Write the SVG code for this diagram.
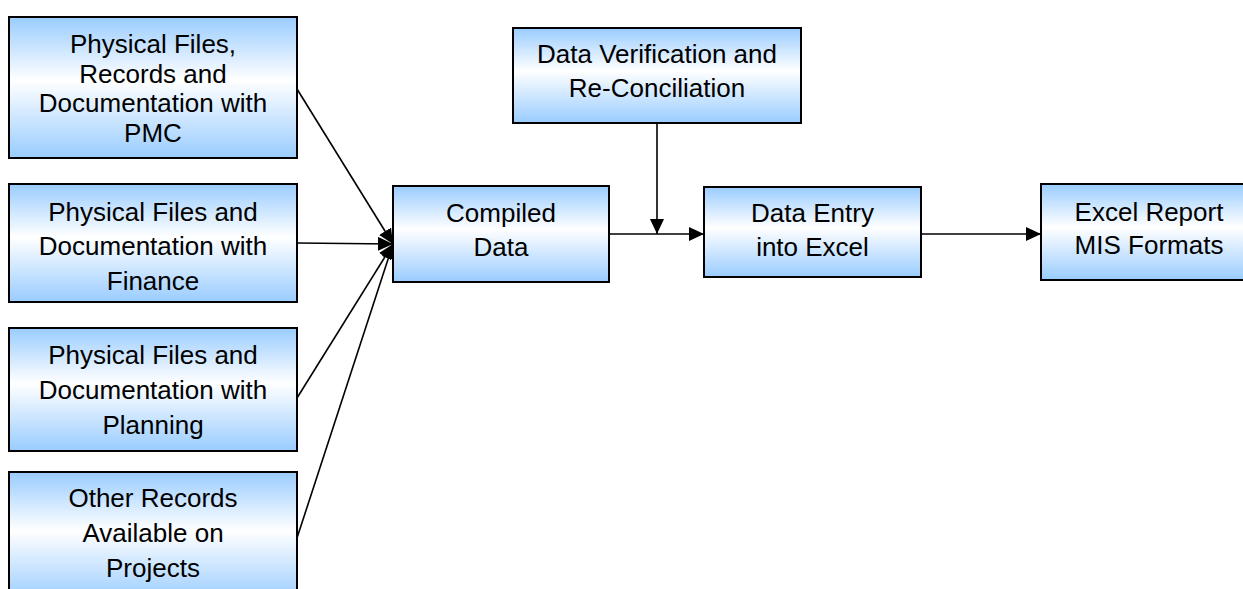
<svg xmlns="http://www.w3.org/2000/svg" width="1243" height="589" viewBox="0 0 1243 589">
  <style>
    .box { fill: url(#boxFill); stroke: #000; stroke-width: 2; }
    .lbl { font-family: "Liberation Sans", Arial, sans-serif; font-size: 26px; fill: #000; text-anchor: middle; }
    .conn { fill: none; stroke: #000; stroke-width: 1.6; marker-end: url(#head); }
  </style>
  <defs>
    <linearGradient id="boxFill" x1="0" y1="0" x2="0" y2="1">
      <stop offset="0" stop-color="#99CCFF"/>
      <stop offset="0.45" stop-color="#FFFFFF"/>
      <stop offset="1" stop-color="#99CCFF"/>
    </linearGradient>
    <marker id="head" markerUnits="userSpaceOnUse" markerWidth="16" markerHeight="14" refX="15" refY="7" orient="auto">
      <path d="M0,0 L15,7 L0,14 Z" fill="#000"/>
    </marker>
  </defs>

  <!-- connectors -->
  <g id="connectors">
    <line class="conn" x1="297" y1="89" x2="393" y2="244"/>
    <line class="conn" x1="297" y1="243" x2="393" y2="244"/>
    <line class="conn" x1="297" y1="398" x2="393" y2="244"/>
    <line class="conn" x1="297" y1="538" x2="393" y2="244"/>
    <line class="conn" x1="609" y1="234" x2="704" y2="234"/>
    <line class="conn" x1="657" y1="123" x2="657" y2="234"/>
    <line class="conn" x1="921" y1="234" x2="1041" y2="234"/>
  </g>

  <g id="pmc">
    <rect class="box" x="9" y="17" width="288" height="141"/>
    <text class="lbl" x="153" y="53">Physical Files,</text>
    <text class="lbl" x="153" y="82.5">Records and</text>
    <text class="lbl" x="153" y="112">Documentation with</text>
    <text class="lbl" x="153" y="141.5">PMC</text>
  </g>

  <g id="finance">
    <rect class="box" x="9" y="184" width="288" height="118"/>
    <text class="lbl" x="153" y="221">Physical Files and</text>
    <text class="lbl" x="153" y="255">Documentation with</text>
    <text class="lbl" x="153" y="290">Finance</text>
  </g>

  <g id="planning">
    <rect class="box" x="9" y="328" width="288" height="123"/>
    <text class="lbl" x="153" y="364">Physical Files and</text>
    <text class="lbl" x="153" y="399">Documentation with</text>
    <text class="lbl" x="153" y="434">Planning</text>
  </g>

  <g id="other-records">
    <rect class="box" x="9" y="472" width="288" height="130"/>
    <text class="lbl" x="153" y="507">Other Records</text>
    <text class="lbl" x="153" y="542">Available on</text>
    <text class="lbl" x="153" y="577">Projects</text>
  </g>

  <g id="compiled">
    <rect class="box" x="393" y="186" width="216" height="96"/>
    <text class="lbl" x="501" y="222">Compiled</text>
    <text class="lbl" x="501" y="256">Data</text>
  </g>

  <g id="verification">
    <rect class="box" x="513" y="28" width="288" height="95"/>
    <text class="lbl" x="657" y="63">Data Verification and</text>
    <text class="lbl" x="657" y="97">Re-Conciliation</text>
  </g>

  <g id="data-entry">
    <rect class="box" x="704" y="187" width="217" height="90"/>
    <text class="lbl" x="812.5" y="222">Data Entry</text>
    <text class="lbl" x="812.5" y="256">into Excel</text>
  </g>

  <g id="excel-report">
    <rect class="box" x="1041" y="184" width="216" height="96"/>
    <text class="lbl" x="1149" y="221">Excel Report</text>
    <text class="lbl" x="1149" y="254">MIS Formats</text>
  </g>
</svg>
